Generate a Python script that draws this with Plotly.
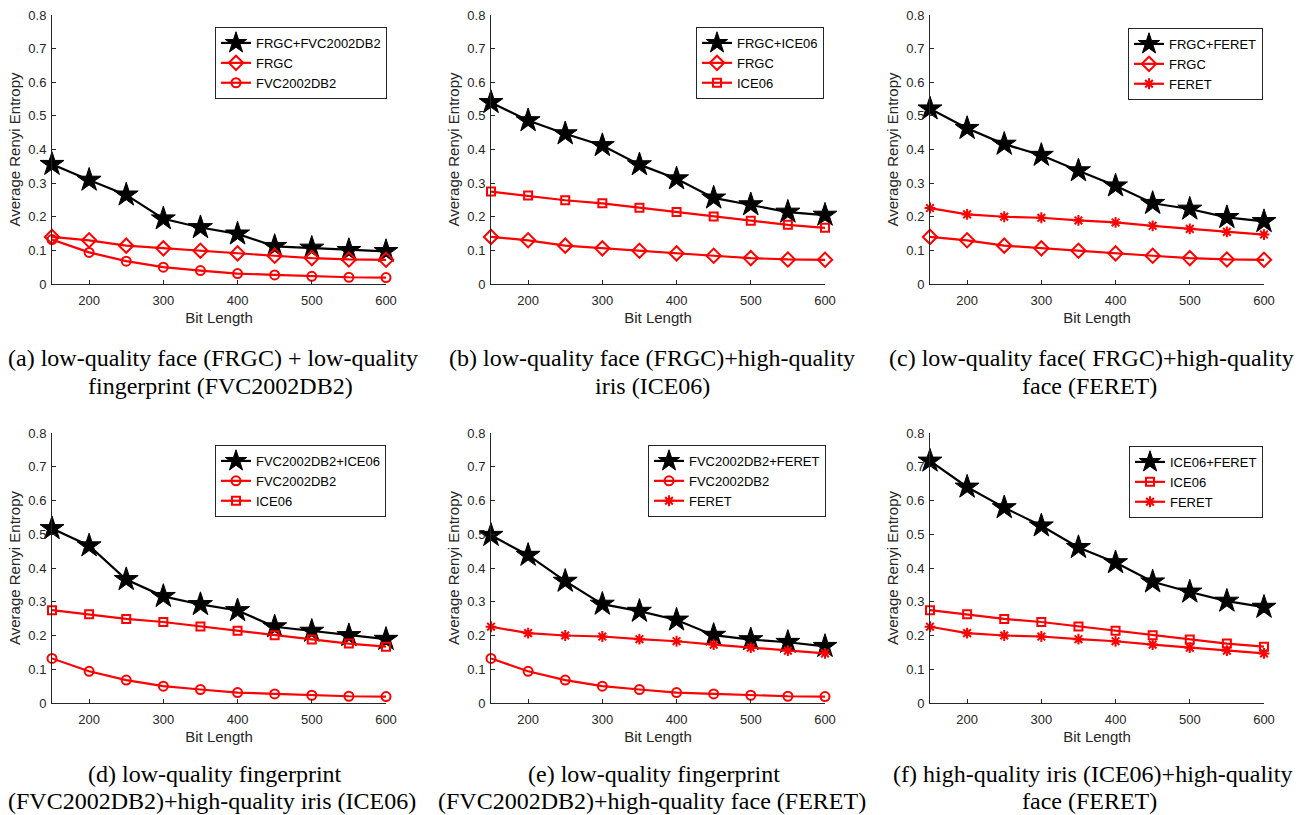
import plotly.graph_objects as go

bit_length = [150, 200, 250, 300, 350, 400, 450, 500, 550, 600]

frgc = [0.140, 0.130, 0.114, 0.106, 0.099, 0.091, 0.084, 0.077, 0.073, 0.072]
fvc2002db2 = [0.132, 0.094, 0.068, 0.050, 0.040, 0.031, 0.027, 0.023, 0.020, 0.019]
ice06 = [0.275, 0.263, 0.249, 0.240, 0.227, 0.214, 0.201, 0.188, 0.176, 0.167]
feret = [0.226, 0.207, 0.200, 0.197, 0.189, 0.183, 0.173, 0.164, 0.155, 0.147]

frgc_fvc = [0.356, 0.309, 0.265, 0.194, 0.168, 0.149, 0.112, 0.107, 0.100, 0.097]
frgc_ice = [0.540, 0.486, 0.447, 0.412, 0.355, 0.313, 0.256, 0.236, 0.214, 0.205]
frgc_feret = [0.521, 0.463, 0.416, 0.383, 0.337, 0.292, 0.240, 0.223, 0.198, 0.186]
fvc_ice = [0.517, 0.466, 0.366, 0.316, 0.292, 0.274, 0.226, 0.213, 0.200, 0.189]
fvc_feret = [0.497, 0.438, 0.361, 0.293, 0.272, 0.246, 0.201, 0.188, 0.180, 0.168]
ice_feret = [0.717, 0.640, 0.579, 0.525, 0.461, 0.416, 0.359, 0.329, 0.302, 0.284]

x_ticks = [200, 300, 400, 500, 600]

captions = [
    ("(a) low-quality face (FRGC) + low-quality", "fingerprint (FVC2002DB2)"),
    ("(b) low-quality face (FRGC)+high-quality", "iris (ICE06)"),
    ("(c) low-quality face( FRGC)+high-quality", "face (FERET)"),
    ("(d) low-quality fingerprint", "(FVC2002DB2)+high-quality iris (ICE06)"),
    ("(e) low-quality fingerprint", "(FVC2002DB2)+high-quality face (FERET)"),
    ("(f) high-quality iris (ICE06)+high-quality", "face (FERET)"),
]

panels = [
    [("FRGC+FVC2002DB2", frgc_fvc, "star"), ("FRGC", frgc, "diamond-open"), ("FVC2002DB2", fvc2002db2, "circle-open")],
    [("FRGC+ICE06", frgc_ice, "star"), ("FRGC", frgc, "diamond-open"), ("ICE06", ice06, "square-open")],
    [("FRGC+FERET", frgc_feret, "star"), ("FRGC", frgc, "diamond-open"), ("FERET", feret, "asterisk-open")],
    [("FVC2002DB2+ICE06", fvc_ice, "star"), ("FVC2002DB2", fvc2002db2, "circle-open"), ("ICE06", ice06, "square-open")],
    [("FVC2002DB2+FERET", fvc_feret, "star"), ("FVC2002DB2", fvc2002db2, "circle-open"), ("FERET", feret, "asterisk-open")],
    [("ICE06+FERET", ice_feret, "star"), ("ICE06", ice06, "square-open"), ("FERET", feret, "asterisk-open")],
]

W, H = 1301, 815
col_px = [(52, 386), (491, 825), (930, 1264)]
row_px = [(15, 284), (433, 703)]
legend_px = [(215, 27), (696, 27), (1128, 28), (215, 445), (648, 445), (1129, 446)]
caption_cx = [(213, 220), (652, 652), (1091, 1089), (215, 212), (654, 652), (1092, 1089)]
caption_cy = [(358, 386), (774, 801)]

AX = "#262626"
SANS = "Arial, Liberation Sans, Helvetica, sans-serif"
SERIF = "Times New Roman, Liberation Serif, serif"

sizes = {"star": 18, "diamond-open": 11, "circle-open": 9, "square-open": 8, "asterisk-open": 9}

fig = go.Figure()
layout = dict(
    width=W, height=H, margin=dict(l=0, r=0, t=0, b=0, pad=0, autoexpand=False),
    paper_bgcolor="white", plot_bgcolor="white",
    font=dict(family=SANS, color=AX, size=12),
    annotations=[],
)

for i, series in enumerate(panels):
    r, c = divmod(i, 3)
    sfx = "" if i == 0 else str(i + 1)
    xa, ya = "xaxis" + sfx, "yaxis" + sfx
    lg = "legend" + sfx
    (x0, x1), (y0, y1) = col_px[c], row_px[r]
    layout[xa] = dict(
        domain=[x0 / W, x1 / W], anchor="y" + sfx, range=[150, 600],
        tickvals=x_ticks, ticks="inside", ticklen=4, tickcolor=AX,
        showline=True, linecolor=AX, linewidth=1, showgrid=False, zeroline=False,
        tickfont=dict(size=13, color=AX), ticklabelstandoff=4,
        title=dict(text="Bit Length", font=dict(size=15, color=AX), standoff=5),
    )
    layout[ya] = dict(
        domain=[1 - y1 / H, 1 - y0 / H], anchor="x" + sfx, range=[0, 0.8],
        tick0=0, dtick=0.1, ticks="inside", ticklen=4, tickcolor=AX,
        showline=True, linecolor=AX, linewidth=1, showgrid=False, zeroline=False,
        tickfont=dict(size=13, color=AX), ticklabelstandoff=2,
        title=dict(text="Average Renyi Entropy", font=dict(size=15, color=AX), standoff=4),
    )
    lx, ly = legend_px[i]
    layout[lg] = dict(
        x=lx / W, y=1 - ly / H, xanchor="left", yanchor="top",
        bgcolor="white", bordercolor=AX, borderwidth=1,
        font=dict(size=13, color="black", family=SANS), itemwidth=30,
        tracegroupgap=0,
    )
    for name, vals, sym in series:
        is_star = sym == "star"
        col = "black" if is_star else "red"
        fig.add_trace(go.Scatter(
            x=bit_length, y=vals, name=name, mode="lines+markers",
            xaxis="x" + sfx, yaxis="y" + sfx, legend=lg, cliponaxis=False,
            line=dict(color=col, width=2.2),
            marker=dict(symbol=sym, size=sizes[sym], color=col,
                        line=dict(color=col, width=2 if not is_star else 1)),
        ))
    for k in range(2):
        layout["annotations"].append(dict(
            text=captions[i][k], x=caption_cx[i][k] / W, y=1 - caption_cy[r][k] / H,
            xref="paper", yref="paper", xanchor="center", yanchor="middle",
            showarrow=False, align="center",
            font=dict(family=SERIF, size=24, color="black"),
        ))

fig.update_layout(**layout)
fig.write_html("out.html", config={"displayModeBar": False},
               post_script="document.body.style.margin='0';")
